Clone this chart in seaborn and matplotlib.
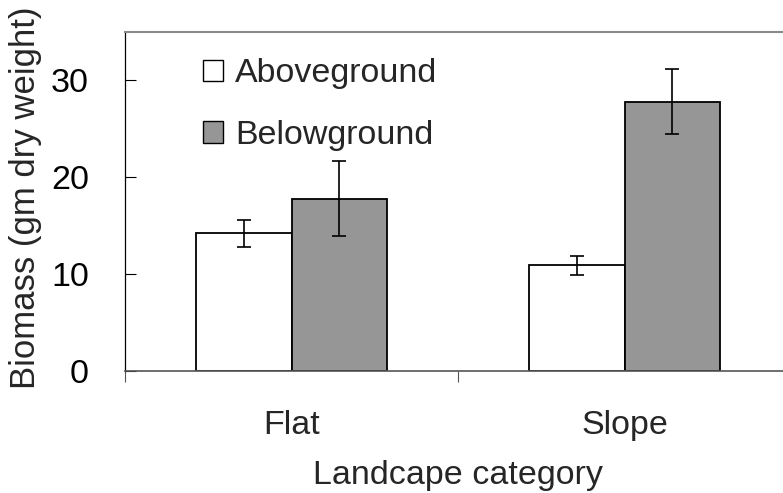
import matplotlib
matplotlib.use("Agg")
import matplotlib.pyplot as plt
import seaborn as sns
import pandas as pd
import numpy as np

# Biomass by landscape category (mean and error)
categories = ["Flat", "Slope"]
fractions = ["Aboveground", "Belowground"]
aboveground = [14.2, 10.9]
belowground = [17.8, 27.8]
aboveground_err = [1.4, 1.0]
belowground_err = [3.85, 3.35]

df = pd.DataFrame({
    "category": categories * 2,
    "fraction": [fractions[0]] * 2 + [fractions[1]] * 2,
    "biomass": aboveground + belowground,
})
errors = {fractions[0]: aboveground_err, fractions[1]: belowground_err}

sns.set_style("white")
plt.rcParams["font.family"] = ["Liberation Sans", "DejaVu Sans"]

FS = 24.5

fig = plt.figure(figsize=(7.83, 4.93), dpi=100)
ax = fig.add_axes([125 / 783, 122 / 493, 666 / 783, 339 / 493])

palette = {fractions[0]: "#ffffff", fractions[1]: "#969696"}
sns.barplot(data=df, x="category", y="biomass", hue="fraction",
            order=categories, hue_order=fractions, palette=palette,
            width=0.575, errorbar=None, edgecolor="black", linewidth=1.3,
            ax=ax)

# error bars centred on each bar
for container, frac in zip(ax.containers, fractions):
    xs = [b.get_x() + b.get_width() / 2 for b in container]
    hs = [b.get_height() for b in container]
    ax.errorbar(xs, hs, yerr=errors[frac], fmt="none", ecolor="black",
                elinewidth=1.2, capsize=4.8, capthick=1.2, zorder=5)

ax.set_xlim(-0.5, 1.5)
ax.set_ylim(0, 35)
ax.set_yticks([0, 10, 20, 30])
ax.tick_params(axis="y", direction="in", length=8, width=0.8, pad=26,
               labelsize=FS, colors="black", left=True)

# category labels centred, ticks at category boundaries
ax.set_xticks([0, 1])
ax.set_xticklabels(categories)
ax.set_xticks([-0.5, 0.5, 1.5], minor=True)
ax.tick_params(axis="x", which="major", length=0, pad=28, labelsize=FS)
ax.tick_params(axis="x", which="minor", direction="out", length=8,
               width=0.8, color="#555555", bottom=True)

ax.set_xlabel("Landcape category", fontsize=FS, labelpad=14)
ax.set_ylabel("Biomass (gm dry weight)", fontsize=25)
ax.yaxis.set_label_coords(-0.125, 0.512)

ax.spines["right"].set_visible(False)
ax.spines["top"].set_visible(True)
ax.spines["top"].set_color("#8a8a8a")
ax.spines["top"].set_linewidth(1.5)
ax.spines["bottom"].set_color("#555555")
ax.spines["bottom"].set_linewidth(1.2)
ax.spines["left"].set_color("black")
ax.spines["left"].set_linewidth(0.9)

leg = ax.legend(loc="upper left", bbox_to_anchor=(0.096, 0.962), frameon=False,
                fontsize=FS, handlelength=0.6, handleheight=0.6,
                handletextpad=0.35, labelspacing=0.9, borderaxespad=0)
for h in leg.legend_handles:
    h.set_edgecolor("black")
    h.set_linewidth(1.0)

fig.savefig("out.png", dpi=100)
